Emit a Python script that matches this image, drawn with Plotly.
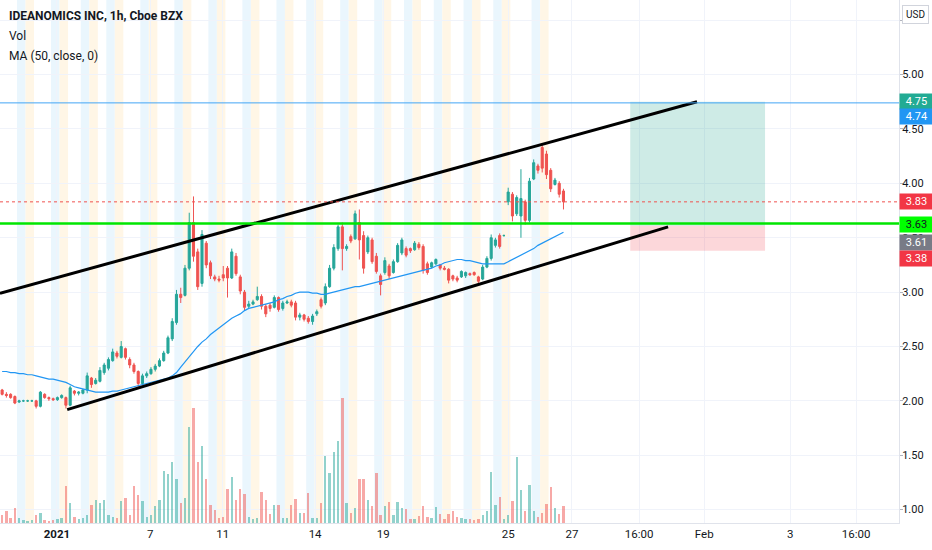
import plotly.graph_objects as go

# IDEANOMICS INC 1h candles, Dec 30 2020 - Jan 26 2021 (x = bar number)
opens = [
    2.10, 2.06, 2.06, 2.04, 1.99, 2.00, 2.00,
    2.00, 2.00, 1.95, 2.06, 2.03, 2.02, 2.01,
    2.03, 2.03, 1.96, 2.09, 2.07, 2.07, 2.10, 2.21, 2.16,
    2.18, 2.26, 2.30, 2.37, 2.44, 2.40, 2.48, 2.38, 2.33, 2.27, 2.16,
    2.23, 2.25, 2.29, 2.32, 2.37, 2.44, 2.57, 2.72, 2.98,
    2.97, 3.22, 3.64, 3.37, 3.08, 3.45, 3.27, 3.14,
    3.12, 3.16, 3.22, 3.13, 3.33, 3.14, 3.00, 2.87,
    2.89, 2.93, 2.96, 2.87, 2.88, 2.86, 2.95, 2.85,
    2.90, 2.91, 2.90, 2.77, 2.79, 2.76, 2.73,
    2.80, 2.93, 2.90, 3.05, 3.22, 3.40, 3.60, 3.40,
    3.51, 3.49, 3.64, 3.52, 3.37, 3.48, 3.33, 3.15,
    3.18, 3.24, 3.18, 3.28, 3.36, 3.40, 3.40,
    3.39, 3.44, 3.42, 3.26, 3.23, 3.26, 3.25,
    3.22, 3.21, 3.15, 3.13, 3.14, 3.15, 3.17,
    3.18, 3.14, 3.12, 3.23, 3.31, 3.43, 3.52,
    3.52, 3.83, 3.90, 3.72, 3.70, 3.83, 3.66, 4.04, 4.16,
    4.33, 4.27, 4.12, 3.99, 4.00, 3.93,
]
highs = [
    2.11, 2.08, 2.07, 2.05, 2.01, 2.01, 2.01,
    2.01, 2.01, 2.09, 2.07, 2.04, 2.03, 2.04,
    2.06, 2.04, 2.14, 2.10, 2.09, 2.11, 2.26, 2.22, 2.21,
    2.31, 2.35, 2.40, 2.48, 2.46, 2.55, 2.49, 2.40, 2.35, 2.28, 2.25,
    2.27, 2.31, 2.34, 2.39, 2.46, 2.60, 2.76, 3.02, 3.04,
    3.25, 3.73, 3.88, 3.40, 3.57, 3.47, 3.29, 3.16,
    3.15, 3.24, 3.24, 3.40, 3.36, 3.16, 3.02, 2.92,
    2.93, 3.05, 2.98, 2.89, 2.90, 2.97, 2.96, 2.92,
    2.93, 2.93, 2.92, 2.81, 2.80, 2.78, 2.80,
    2.84, 2.95, 3.08, 3.25, 3.44, 3.62, 3.64, 3.44,
    3.53, 3.75, 3.76, 3.56, 3.52, 3.50, 3.36, 3.17,
    3.32, 3.26, 3.30, 3.45, 3.50, 3.42, 3.41,
    3.47, 3.46, 3.44, 3.28, 3.28, 3.31, 3.26,
    3.24, 3.22, 3.16, 3.15, 3.20, 3.19, 3.18,
    3.19, 3.15, 3.25, 3.33, 3.53, 3.50, 3.54,
    3.53, 3.96, 3.92, 3.89, 4.13, 3.85, 4.05, 4.22, 4.18,
    4.37, 4.30, 4.14, 4.05, 4.02, 3.95,
]
lows = [
    2.05, 2.03, 2.02, 1.97, 1.98, 1.99, 1.99,
    1.99, 1.93, 1.94, 2.02, 2.00, 2.00, 2.00,
    2.02, 1.93, 1.95, 2.05, 2.05, 2.06, 2.07, 2.12, 2.15,
    2.17, 2.24, 2.28, 2.36, 2.39, 2.39, 2.38, 2.30, 2.25, 2.13, 2.15,
    2.21, 2.24, 2.27, 2.31, 2.36, 2.43, 2.55, 2.70, 2.90,
    2.96, 3.20, 3.28, 3.02, 3.05, 3.22, 3.12, 3.10,
    3.09, 3.10, 2.95, 3.12, 3.15, 2.98, 2.83, 2.85,
    2.88, 2.92, 2.84, 2.77, 2.82, 2.85, 2.82, 2.83,
    2.89, 2.86, 2.74, 2.74, 2.73, 2.71, 2.70,
    2.78, 2.85, 2.88, 3.04, 3.20, 3.38, 3.20, 3.38,
    3.45, 3.48, 3.30, 3.17, 3.35, 3.26, 3.17, 2.97,
    3.16, 3.12, 3.17, 3.27, 3.34, 3.32, 3.36,
    3.38, 3.39, 3.17, 3.16, 3.22, 3.25, 3.20,
    3.20, 3.08, 3.10, 3.09, 3.13, 3.13, 3.15,
    3.15, 3.08, 3.11, 3.22, 3.29, 3.41, 3.40,
    3.51, 3.80, 3.65, 3.70, 3.50, 3.62, 3.64, 4.03, 4.09,
    4.10, 4.04, 3.92, 3.98, 3.87, 3.76,
]
closes = [
    2.06, 2.05, 2.03, 1.98, 2.00, 2.00, 2.00,
    2.00, 1.95, 2.08, 2.03, 2.02, 2.01, 2.03,
    2.05, 1.96, 2.12, 2.07, 2.08, 2.10, 2.23, 2.15, 2.19,
    2.28, 2.33, 2.38, 2.45, 2.41, 2.50, 2.40, 2.33, 2.27, 2.16, 2.23,
    2.25, 2.29, 2.32, 2.37, 2.44, 2.58, 2.73, 2.98, 2.95,
    3.22, 3.64, 3.33, 3.05, 3.53, 3.25, 3.15, 3.12,
    3.11, 3.13, 3.13, 3.37, 3.17, 3.01, 2.86, 2.89,
    2.91, 2.96, 2.87, 2.80, 2.85, 2.95, 2.84, 2.90,
    2.91, 2.88, 2.77, 2.79, 2.75, 2.73, 2.78,
    2.82, 2.87, 3.05, 3.22, 3.41, 3.60, 3.40, 3.42,
    3.47, 3.72, 3.48, 3.22, 3.50, 3.28, 3.19, 3.07,
    3.29, 3.15, 3.28, 3.43, 3.48, 3.34, 3.38,
    3.45, 3.41, 3.20, 3.18, 3.27, 3.30, 3.22,
    3.21, 3.11, 3.12, 3.11, 3.19, 3.18, 3.16,
    3.16, 3.10, 3.23, 3.31, 3.50, 3.48, 3.42,
    3.52, 3.92, 3.70, 3.87, 3.86, 3.66, 4.02, 4.19, 4.12,
    4.14, 4.08, 3.95, 4.03, 3.90, 3.83,
]
volumes = [
    8, 12, 5, 15, 5, 3, 2,
    3, 8, 10, 3, 2, 3, 4,
    5, 37, 20, 6, 4, 5, 8, 18, 23,
    20, 23, 8, 6, 5, 22, 25, 8, 38, 28, 22,
    6, 8, 17, 23, 53, 50, 62, 45, 20,
    25, 97, 117, 62, 78, 45, 18, 13,
    5, 6, 34, 47, 23, 34, 29, 6,
    4, 5, 31, 23, 9, 18, 18, 5,
    5, 18, 24, 10, 10, 30, 5,
    5, 20, 68, 51, 72, 83, 127, 20,
    10, 15, 45, 45, 23, 17, 51, 8,
    17, 21, 8, 21, 15, 14, 4,
    4, 7, 17, 6, 5, 16, 9,
    4, 9, 12, 6, 5, 4, 4,
    3, 4, 8, 12, 52, 18, 26,
    4, 8, 22, 67, 33, 12, 39, 12, 6,
    10, 19, 36, 15, 9, 17,
]
ma50 = [
    2.27, 2.27, 2.26, 2.26, 2.25, 2.25, 2.24,
    2.24, 2.23, 2.22, 2.21, 2.20, 2.20, 2.19,
    2.18, 2.17, 2.15, 2.13, 2.12, 2.11, 2.10, 2.09, 2.08,
    2.08, 2.08, 2.08, 2.09, 2.09, 2.10, 2.11, 2.12, 2.13, 2.14, 2.15,
    2.16, 2.17, 2.18, 2.19, 2.20, 2.21, 2.23, 2.26, 2.31,
    2.36, 2.41, 2.46, 2.50, 2.54, 2.57, 2.61, 2.64,
    2.67, 2.70, 2.73, 2.76, 2.78, 2.80, 2.83, 2.85,
    2.86, 2.87, 2.88, 2.89, 2.90, 2.91, 2.93, 2.94,
    2.96, 2.97, 2.99, 3.00, 3.00, 3.00, 2.99,
    2.99, 2.98, 2.98, 2.99, 3.00, 3.01, 3.02, 3.03,
    3.04, 3.05, 3.05, 3.06, 3.07, 3.08, 3.09, 3.10,
    3.11, 3.12, 3.13, 3.14, 3.15, 3.16, 3.17,
    3.18, 3.19, 3.20, 3.21, 3.22, 3.24, 3.25,
    3.27, 3.28, 3.29, 3.30, 3.30, 3.29, 3.29,
    3.28, 3.27, 3.26, 3.26, 3.26, 3.26, 3.26,
    3.26, 3.28, 3.30, 3.32, 3.34, 3.36, 3.38, 3.40, 3.43,
    3.45, 3.47, 3.49, 3.51, 3.53, 3.55,
]

# first bar of each session (Dec 31 ... Jan 26)
day_starts = [6, 14, 21, 27, 35, 43, 51, 59, 67, 74, 82, 90, 97, 104, 111, 118, 127]

tick_pos = [12.9, 34.8, 51.9, 73.6, 89.6, 119.0, 134.0, 149.8, 165.1, 185.3, 200.8]
tick_text = ["<b>2021</b>", "7", "11", "14", "19", "25", "27", "16:00", "Feb", "3", "16:00"]
price_ticks = [1.0, 1.5, 2.0, 2.5, 3.0, 3.5, 4.0, 4.5, 5.0, 5.5]

# drawings
upper_x = [-0.5, 163.4]
upper_y = [2.99, 4.75]
lower_x = [15.3, 156.6]
lower_y = [1.92, 3.60]
blue_level = 4.74
green_level = 3.63
last_price = 3.83
pos_x = [147.7, 179.4]
pos_target = 4.75
pos_entry = 3.61
pos_stop = 3.38

UP = "#26a69a"
DOWN = "#ef5350"
n = len(closes)
bars = list(range(n))

vol_colors = [
    "rgba(38,166,154,0.5)" if c >= o else "rgba(239,83,80,0.5)"
    for o, c in zip(opens, closes)
]

fig = go.Figure()

fig.add_trace(go.Bar(
    x=bars, y=volumes, yaxis="y2", marker_color=vol_colors,
    marker_line_width=0, width=0.55, hoverinfo="skip",
))
fig.add_trace(go.Candlestick(
    x=bars, open=opens, high=highs, low=lows, close=closes,
    increasing=dict(line=dict(color=UP, width=1), fillcolor=UP),
    decreasing=dict(line=dict(color=DOWN, width=1), fillcolor=DOWN),
    whiskerwidth=0,
))
fig.add_trace(go.Scatter(
    x=bars, y=ma50, mode="lines", line=dict(color="#2196f3", width=1.2),
    hoverinfo="skip",
))
for xs, ys in [(upper_x, upper_y), (lower_x, lower_y)]:
    fig.add_trace(go.Scatter(
        x=xs, y=ys, mode="lines", line=dict(color="#000000", width=3),
        hoverinfo="skip",
    ))

shapes = []
for s in day_starts:
    shapes.append(dict(type="rect", xref="x", yref="paper", x0=s - 2.5, x1=s - 0.5,
                       y0=0, y1=1, fillcolor="#eaf6fd", line_width=0, layer="below"))
    shapes.append(dict(type="rect", xref="x", yref="paper", x0=s - 0.5, x1=s + 1.5,
                       y0=0, y1=1, fillcolor="#fff6e6", line_width=0, layer="below"))

# long position tool
shapes.append(dict(type="rect", xref="x", yref="y", x0=pos_x[0], x1=pos_x[1],
                   y0=pos_entry, y1=pos_target, fillcolor="rgba(8,153,129,0.2)",
                   line_width=0, layer="between"))
shapes.append(dict(type="rect", xref="x", yref="y", x0=pos_x[0], x1=pos_x[1],
                   y0=pos_stop, y1=pos_entry, fillcolor="rgba(242,54,69,0.2)",
                   line_width=0, layer="between"))

shapes.append(dict(type="line", xref="paper", yref="y", x0=0, x1=1,
                   y0=blue_level, y1=blue_level, line=dict(color="#42a5f5", width=1)))
shapes.append(dict(type="line", xref="paper", yref="y", x0=0, x1=1,
                   y0=last_price, y1=last_price,
                   line=dict(color="#ef5350", width=1, dash="dot")))
shapes.append(dict(type="line", xref="paper", yref="y", x0=0, x1=1,
                   y0=green_level, y1=green_level, line=dict(color="#00e600", width=2.5)))

annotations = []
legend_lines = [
    ("<b>IDEANOMICS INC, 1h, Cboe BZX</b>", 16),
    ("Vol", 36),
    ("MA (50, close, 0)", 56),
]
for text, top in legend_lines:
    annotations.append(dict(text=text, xref="paper", yref="paper", x=0, y=1,
                            xanchor="left", yanchor="middle", xshift=7, yshift=-top,
                            showarrow=False, font=dict(size=12, color="#131722")))

price_tags = [
    (pos_target, "#22ab94", "#ffffff", 0),
    (blue_level, "#2196f3", "#ffffff", -14),
    (last_price, "#f23645", "#ffffff", 0),
    (green_level, "#00ff00", "#131722", -1),
    (pos_entry, "#787b86", "#ffffff", -17),
    (pos_stop, "#f23645", "#ffffff", -8),
]
for price, bg, fg, shift in price_tags:
    annotations.append(dict(text=f"{price:.2f}", xref="paper", yref="y", x=1, y=price,
                            xanchor="left", yanchor="middle", yshift=shift,
                            showarrow=False, bgcolor=bg, width=31, height=13,
                            borderpad=1, font=dict(size=11, color=fg)))

annotations.append(dict(text="USD", xref="paper", yref="paper", x=1, y=1,
                        xanchor="left", yanchor="top", xshift=3, yshift=-5,
                        showarrow=False, bgcolor="#ffffff", bordercolor="#d1d4dc",
                        borderwidth=1, borderpad=3,
                        font=dict(size=10, color="#131722")))

fig.update_layout(
    width=932, height=550,
    margin=dict(l=0, r=33, t=0, b=27),
    paper_bgcolor="#ffffff", plot_bgcolor="#ffffff",
    showlegend=False,
    font=dict(family="Roboto, 'Noto Sans', sans-serif", color="#131722"),
    shapes=shapes, annotations=annotations,
    bargap=0,
    xaxis=dict(
        range=[-0.5, 210.9], tickvals=tick_pos, ticktext=tick_text,
        showgrid=True, gridcolor="#f0f3fa", zeroline=False,
        showline=True, linecolor="#e0e3eb", ticks="",
        tickfont=dict(size=11.5, color="#131722"),
        rangeslider=dict(visible=False), fixedrange=True,
    ),
    yaxis=dict(
        side="right", range=[0.877, 5.686], tickvals=price_ticks,
        ticktext=[f"{v:.2f}" for v in price_ticks],
        showgrid=True, gridcolor="#f0f3fa", zeroline=False,
        showline=True, linecolor="#e0e3eb", ticks="outside", ticklen=3,
        tickcolor="#b2b5be", tickfont=dict(size=11, color="#131722"),
        ticklabelstandoff=-3,
    ),
    yaxis2=dict(overlaying="y", range=[0, 530], visible=False),
)

# page body has a default 8px margin; drop it so the figure fills the window
fig.write_html(
    "out.html",
    config={"displayModeBar": False},
    post_script="document.body.style.margin='0';",
)
